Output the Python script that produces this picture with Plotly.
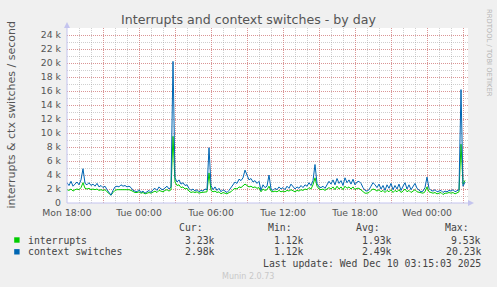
import plotly.graph_objects as go
import pandas as pd

# ---------------- data (values in thousands per second, 10-minute samples) -------------
start_time = "2025-12-08 18:00"
interrupts_k = [
    1.9, 1.8, 2.0, 1.7, 1.9, 2.0, 1.9, 2.2, 2.9, 2.1,
    2.0, 2.1, 1.9, 2.0, 1.9, 2.0, 1.8, 1.9, 1.8, 1.9,
    1.6, 1.4, 1.12, 1.5, 1.8,
    1.9, 1.9, 2.0, 1.9, 2.0, 1.9, 1.9, 1.8,
    1.6, 1.5, 1.5, 1.6, 1.4, 1.5, 1.3, 1.4, 1.5, 1.4,
    1.6, 1.7, 1.5, 1.8, 1.7, 1.6, 1.8, 1.9, 1.7, 1.9,
    9.53,
    3.0, 2.5, 2.6, 2.2, 2.3, 2.0, 2.1,
    1.7, 1.5, 1.6, 1.5, 1.6, 1.4, 1.5, 1.5, 1.6, 1.6,
    4.3,
    1.8, 1.6, 1.7, 1.5, 1.6, 1.3, 1.5, 1.4, 1.3, 1.5, 1.6,
    1.9, 2.1, 2.0, 2.3, 2.2, 2.4, 2.7, 2.5,
    2.3, 2.4, 2.2, 2.3, 2.1, 2.2, 1.6,
    2.0, 1.8, 1.9, 2.4, 1.7, 1.6,
    1.7, 1.6, 1.8, 1.6, 1.7, 1.6, 1.8, 1.7, 1.9, 1.8, 1.6,
    1.8, 1.7, 1.9, 1.8, 2.0, 1.9, 2.2, 2.0, 2.6,
    3.6,
    2.4, 2.0, 1.9, 2.0, 1.8, 2.0,
    2.2, 2.0, 2.3, 1.9, 2.4, 2.0, 2.3, 1.9, 2.4, 2.1, 2.3, 2.0, 2.3, 1.9, 2.1,
    2.1, 1.9, 1.6, 1.4, 1.4,
    1.5, 1.8, 2.0, 1.9, 1.7, 1.9, 1.6, 1.8, 1.5, 1.8,
    1.6, 1.9, 1.5, 1.8, 1.6, 1.9, 1.5, 1.7, 2.0, 1.6, 1.8, 1.5, 1.7, 1.9, 1.6,
    1.5, 1.4, 1.4, 1.6, 2.3,
    1.6, 1.5, 1.4, 1.5, 1.3, 1.4, 1.5, 1.2, 1.4, 1.4, 1.5, 1.4, 1.5, 1.3, 1.5, 1.6,
    8.4, 2.7, 3.23,
]
context_switches_k = [
    2.9, 2.5, 3.1, 2.4, 2.7, 3.0, 2.6, 3.3, 4.9, 2.8,
    2.6, 2.9, 2.5, 2.7, 2.4, 2.8, 2.3, 2.5, 2.2, 2.4,
    1.9, 1.5, 1.12, 1.8, 2.3,
    2.4, 2.3, 2.6, 2.4, 2.5, 2.3, 2.4, 2.2,
    1.8, 1.7, 1.6, 1.9, 1.5, 1.7, 1.4, 1.6, 1.8, 1.5,
    1.9, 2.1, 1.8, 2.3, 2.0, 1.9, 2.2, 2.4, 2.0, 2.3,
    20.23,
    3.6, 3.0, 3.3, 2.7, 2.9, 2.5, 2.6,
    2.1, 1.8, 2.0, 1.7, 1.9, 1.6, 1.8, 1.7, 2.0, 1.9,
    7.9,
    2.5, 1.9, 2.3, 1.8, 2.1, 1.6, 1.9, 1.7, 1.5, 1.8, 2.2,
    2.6, 3.0, 2.8, 3.4, 3.2, 3.6, 4.7, 3.9,
    3.3, 3.5, 3.0, 3.2, 2.8, 3.1, 1.8,
    2.6, 2.2, 2.4, 4.0, 2.0, 1.8,
    2.1, 1.9, 2.3, 2.0, 2.2, 1.9, 2.4, 2.1, 2.7, 2.3, 2.0,
    2.3, 2.1, 2.5, 2.2, 2.6, 2.4, 2.9, 2.5, 3.2,
    5.5,
    2.8, 2.3, 2.2, 2.4, 2.1, 2.6,
    3.1, 2.7, 3.3, 2.6, 3.5, 2.8, 3.2, 2.5, 3.6, 2.9, 3.3, 2.7, 3.4, 2.6, 3.0,
    3.1, 2.8, 2.2, 1.8, 1.7,
    1.9, 2.4, 2.9, 2.6, 2.2, 2.7, 2.0, 2.5, 1.8, 2.6,
    2.1, 2.8, 1.9, 2.5, 2.0, 2.7, 1.8, 2.4, 2.9, 2.0, 2.6, 1.9, 2.3, 2.8, 2.1,
    1.8, 1.6, 1.7, 2.2, 3.7,
    2.1, 1.8, 1.7, 1.9, 1.6, 1.7, 1.8, 1.5, 1.7, 1.6, 1.8, 1.7, 1.9, 1.6, 1.8, 1.9,
    16.2, 2.4, 2.98,
]
series_names = ["interrupts", "context switches"]
series_colors = ["#00CC00", "#0066B3"]
stat_cur = ["3.23k", "2.98k"]
stat_min = ["1.12k", "1.12k"]
stat_avg = ["1.93k", "2.49k"]
stat_max = ["9.53k", "20.23k"]
y_tick_vals = [0, 2000, 4000, 6000, 8000, 10000, 12000, 14000, 16000, 18000, 20000, 22000, 24000]
y_tick_text = ["0", "2 k", "4 k", "6 k", "8 k", "10 k", "12 k", "14 k", "16 k", "18 k", "20 k", "22 k", "24 k"]
x_tick_vals = pd.date_range("2025-12-08 18:00", "2025-12-10 03:00", freq="3h")
x_tick_text = ["Mon 18:00", "", "Tue 00:00", "", "Tue 06:00", "", "Tue 12:00", "",
               "Tue 18:00", "", "Wed 00:00", ""]

# ---------------- layout geometry (pixels) ----------------
W, H = 497, 287
PL, PR, PT, PB = 67, 468, 28, 203


def fx(px):
    return (px - PL) / (PR - PL)


def fy(py):
    return (PB - py) / (PB - PT)


times = pd.date_range(start_time, periods=len(context_switches_k), freq="10min")

fig = go.Figure()
for name, color, vals in zip(series_names, series_colors, [interrupts_k, context_switches_k]):
    fig.add_trace(go.Scatter(
        x=times, y=[v * 1000 for v in vals], mode="lines", name=name,
        line=dict(color=color, width=1), hoverinfo="skip", showlegend=False,
    ))

tick_font = dict(family="DejaVu Sans", size=9.3, color="#555555")
major_grid = "rgba(225,110,110,0.6)"
minor_grid = "rgba(160,160,160,0.5)"

fig.update_layout(
    width=W, height=H,
    margin=dict(l=PL, r=W - PR, t=PT, b=H - PB),
    paper_bgcolor="#F0F0F0", plot_bgcolor="#FFFFFF",
    title=dict(text="Interrupts and context switches - by day", x=0.5, xanchor="center",
               y=1 - 19.5 / H, yanchor="middle",
               font=dict(family="DejaVu Sans", size=12.6, color="#555555")),
    xaxis=dict(
        type="date",
        range=["2025-12-08 18:00", "2025-12-10 03:25"],
        tickvals=list(x_tick_vals), ticktext=x_tick_text,
        showgrid=True, gridcolor=major_grid, griddash="1px,1px", gridwidth=1,
        minor=dict(dtick=3600000, tick0="2025-12-08 18:00", showgrid=True,
                   gridcolor=minor_grid, griddash="1px,1px", gridwidth=1),
        zeroline=False, showline=False, ticks="", tickfont=tick_font,
        ticklabelstandoff=3, fixedrange=True,
    ),
    yaxis=dict(
        range=[0, 25000],
        tickvals=y_tick_vals, ticktext=y_tick_text,
        showgrid=True, gridcolor=major_grid, griddash="1px,1px", gridwidth=1,
        minor=dict(dtick=1000, tick0=0, showgrid=True,
                   gridcolor=minor_grid, griddash="1px,1px", gridwidth=1),
        zeroline=False, showline=False, ticks="", tickfont=tick_font,
        ticklabelstandoff=5, fixedrange=True,
    ),
    showlegend=False,
)

axis_col = "#C4C4EE"
shapes = [
    dict(type="line", xref="paper", yref="paper", x0=fx(PL), x1=fx(PR + 1), y0=0, y1=0,
         line=dict(color=axis_col, width=1)),
    dict(type="line", xref="paper", yref="paper", x0=0, x1=0, y0=0, y1=fy(PT - 1),
         line=dict(color=axis_col, width=1)),
    dict(type="path", xref="paper", yref="paper",
         path=f"M {fx(PR)} {fy(PB - 3)} L {fx(PR + 6)} {fy(PB)} L {fx(PR)} {fy(PB + 3)} Z",
         fillcolor=axis_col, line=dict(color=axis_col, width=0)),
    dict(type="path", xref="paper", yref="paper",
         path=f"M {fx(PL - 3)} {fy(PT)} L {fx(PL)} {fy(PT - 6)} L {fx(PL + 3)} {fy(PT)} Z",
         fillcolor=axis_col, line=dict(color=axis_col, width=0)),
]
for k, color in enumerate(series_colors):
    cy = 240 + 11.8 * k
    shapes.append(dict(type="rect", xref="paper", yref="paper",
                       x0=fx(14.2), x1=fx(19.6), y0=fy(cy + 2.7), y1=fy(cy - 2.7),
                       fillcolor=color, line=dict(width=0)))
fig.update_layout(shapes=shapes)

mono = dict(family="DejaVu Sans Mono", size=9.8, color="#444444")
ann = []


def text_at(px, py, text, font, xanchor="left", angle=0):
    ann.append(dict(xref="paper", yref="paper", x=fx(px), y=fy(py), text=text,
                    showarrow=False, xanchor=xanchor, yanchor="middle",
                    font=font, textangle=angle))


text_at(11, 115.5, "interrupts & ctx switches / second",
        dict(family="DejaVu Sans", size=11, color="#555555"), xanchor="center", angle=-90)
text_at(489, 53, "RRDTOOL / TOBI OETIKER",
        dict(family="DejaVu Sans", size=6.8, color="#B4B4B4"), xanchor="center", angle=90)

col_right = [205, 294, 382, 471]
for txt, xr in zip(["Cur:", "Min:", "Avg:", "Max:"], col_right):
    text_at(xr, 227.8, txt, mono, xanchor="right")
val_right = [217, 306, 394, 483]
for k, name in enumerate(series_names):
    y = 240 + 11.8 * k
    text_at(25.5, y, name, mono)
    for vals, xr in zip([stat_cur, stat_min, stat_avg, stat_max], val_right):
        text_at(xr, y, vals[k], mono, xanchor="right")
text_at(483, 263.5, "Last update: Wed Dec 10 03:15:03 2025", mono, xanchor="right")
text_at(248, 276.5, "Munin 2.0.73", dict(family="DejaVu Sans", size=8, color="#C8C8C8"),
        xanchor="center")
fig.update_layout(annotations=ann)

fig.write_html("out.html")
